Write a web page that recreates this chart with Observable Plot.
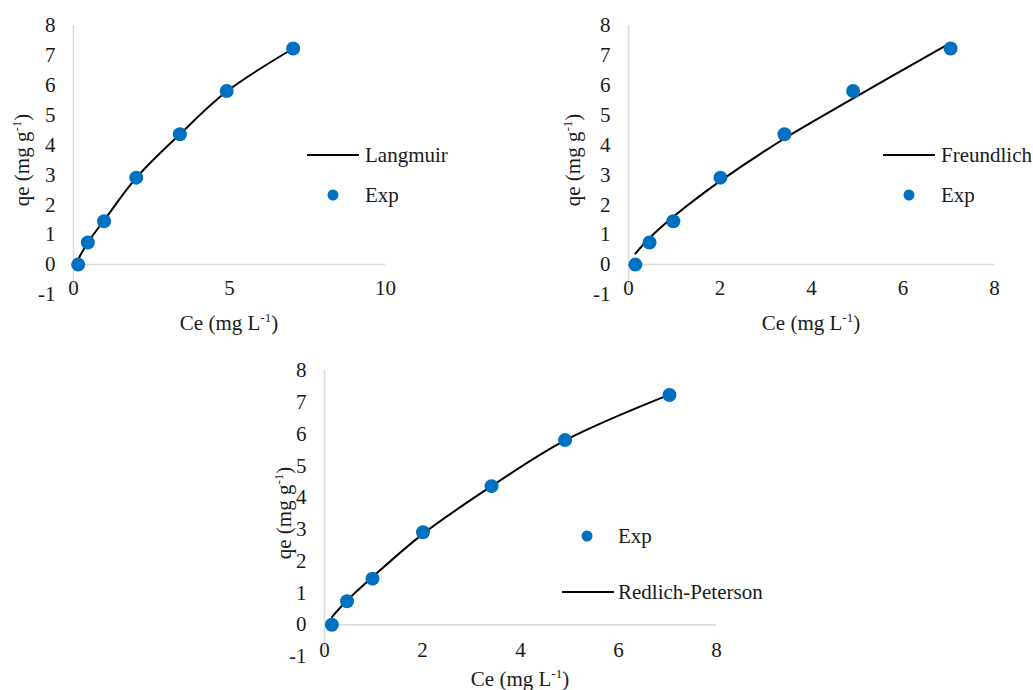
<!DOCTYPE html>
<html>
<head>
<meta charset="utf-8">
<script src="https://cdn.jsdelivr.net/npm/d3@7"></script>
<script src="https://cdn.jsdelivr.net/npm/@observablehq/plot@0.6"></script>
<style>
  html, body { margin: 0; padding: 0; background: #fff; }
  #root { position: relative; width: 1033px; height: 690px; overflow: hidden; font-family: 'Liberation Serif', 'Times New Roman', Times, 'DejaVu Serif', serif; color: #1a1a1a; }
  #root svg text { font-family: 'Liberation Serif', 'Times New Roman', Times, 'DejaVu Serif', serif; }
  .panel { position: absolute; }
  .lbl { position: absolute; font-size: 21px; white-space: nowrap; line-height: 1; }
  .ylbl { transform: translate(-50%, -50%) rotate(-90deg); }
  .xlbl { transform: translate(-50%, -50%); }
  .lgtext { position: absolute; font-size: 21px; line-height: 1; transform: translateY(-50%); white-space: nowrap; }
  .lgline { position: absolute; height: 2px; background: #000; transform: translateY(-50%); }
  .lgdot { position: absolute; width: 11px; height: 11px; border-radius: 50%; background: #0070C0; transform: translate(-50%, -50%); }
  sup { font-size: 13px; vertical-align: 8px; line-height: 0; }
</style>
</head>
<body>
<div id="root"></div>
<script>
// Experimental data
const expCe = [0.15, 0.46, 0.98, 2.01, 3.41, 4.91, 7.04];
const expQe = [0, 0.74, 1.45, 2.91, 4.36, 5.81, 7.23];

// Fitted model curves
const fitCe = [0.15, 0.46, 0.98, 2.01, 3.41, 4.91, 7.04];
const langmuirQe = [0.18, 0.74, 1.48, 2.9, 4.36, 5.79, 7.23];
const freundlichQe = [0.37, 0.89, 1.6, 2.8, 4.22, 5.56, 7.42];
const redlichQe = [0.24, 0.76, 1.5, 2.86, 4.36, 5.8, 7.24];

// Tick labels
const yTicks = [-1, 0, 1, 2, 3, 4, 5, 6, 7, 8];
const xTicks1 = [0, 5, 10];
const xTicks23 = [0, 2, 4, 6, 8];

const exp = expCe.map((c, i) => ({ce: c, qe: expQe[i]}));
const mk = (arr) => fitCe.map((c, i) => ({ce: c, qe: arr[i]}));

const root = document.getElementById("root");
const FONT = "'Liberation Serif', 'Times New Roman', Times, 'DejaVu Serif', serif";

function panel({left, top, width, height, marginLeft, marginRight, marginTop, marginBottom, xmax, xTicks, fit}) {
  const svg = Plot.plot({
    width, height, marginLeft, marginRight, marginTop, marginBottom,
    x: {domain: [0, xmax]},
    y: {domain: [-1, 8]},
    style: {fontFamily: FONT, fontSize: "21px", color: "#1a1a1a", background: "transparent", overflow: "visible"},
    marks: [
      Plot.ruleY([0], {stroke: "#d9d9d9", strokeWidth: 1.5}),
      Plot.ruleX([0], {stroke: "#d9d9d9", strokeWidth: 1.5}),
      Plot.axisY({ticks: yTicks, tickSize: 0, tickPadding: 18, label: null, tickFormat: d => String(d)}),
      Plot.axisX({ticks: xTicks, tickSize: 0, tickPadding: -14, label: null, tickFormat: d => String(d)}),
      Plot.line(fit, {x: "ce", y: "qe", stroke: "#000", strokeWidth: 2, curve: "catmull-rom"}),
      Plot.dot(exp, {x: "ce", y: "qe", r: 7, fill: "#0070C0"})
    ]
  });
  const wrap = document.createElement("div");
  wrap.className = "panel";
  wrap.style.left = left + "px";
  wrap.style.top = top + "px";
  wrap.appendChild(svg);
  root.appendChild(wrap);
}

function html(s) {
  root.insertAdjacentHTML("beforeend", s);
}

// Panel 1 - Langmuir
panel({left: 0, top: 0, width: 395, height: 324, marginLeft: 73, marginRight: 10, marginTop: 25, marginBottom: 30, xmax: 10, xTicks: xTicks1, fit: mk(langmuirQe)});
// Panel 2 - Freundlich
panel({left: 550, top: 0, width: 454, height: 324, marginLeft: 78, marginRight: 10, marginTop: 25, marginBottom: 30, xmax: 8, xTicks: xTicks23, fit: mk(freundlichQe)});
// Panel 3 - Redlich-Peterson
panel({left: 250, top: 345, width: 476, height: 341, marginLeft: 74, marginRight: 10, marginTop: 25, marginBottom: 30, xmax: 8, xTicks: xTicks23, fit: mk(redlichQe)});

// Axis titles
html(`<div class="lbl ylbl" style="left:22px;top:160px">qe (mg g<sup>-1</sup>)</div>`);
html(`<div class="lbl xlbl" style="left:229px;top:323px">Ce (mg L<sup>-1</sup>)</div>`);
html(`<div class="lbl ylbl" style="left:573px;top:160px">qe (mg g<sup>-1</sup>)</div>`);
html(`<div class="lbl xlbl" style="left:811px;top:323px">Ce (mg L<sup>-1</sup>)</div>`);
html(`<div class="lbl ylbl" style="left:284px;top:513px">qe (mg g<sup>-1</sup>)</div>`);
html(`<div class="lbl xlbl" style="left:520px;top:679px">Ce (mg L<sup>-1</sup>)</div>`);

// Legends
html(`<div class="lgline" style="left:307px;top:155px;width:52px"></div><div class="lgtext" style="left:365px;top:155px">Langmuir</div>`);
html(`<div class="lgdot" style="left:333px;top:195px"></div><div class="lgtext" style="left:365px;top:195px">Exp</div>`);
html(`<div class="lgline" style="left:883px;top:155px;width:52px"></div><div class="lgtext" style="left:941px;top:155px">Freundlich</div>`);
html(`<div class="lgdot" style="left:909px;top:195px"></div><div class="lgtext" style="left:941px;top:195px">Exp</div>`);
html(`<div class="lgdot" style="left:587px;top:536px"></div><div class="lgtext" style="left:618px;top:536px">Exp</div>`);
html(`<div class="lgline" style="left:562px;top:592px;width:52px"></div><div class="lgtext" style="left:618px;top:592px">Redlich-Peterson</div>`);
</script>
</body>
</html>
